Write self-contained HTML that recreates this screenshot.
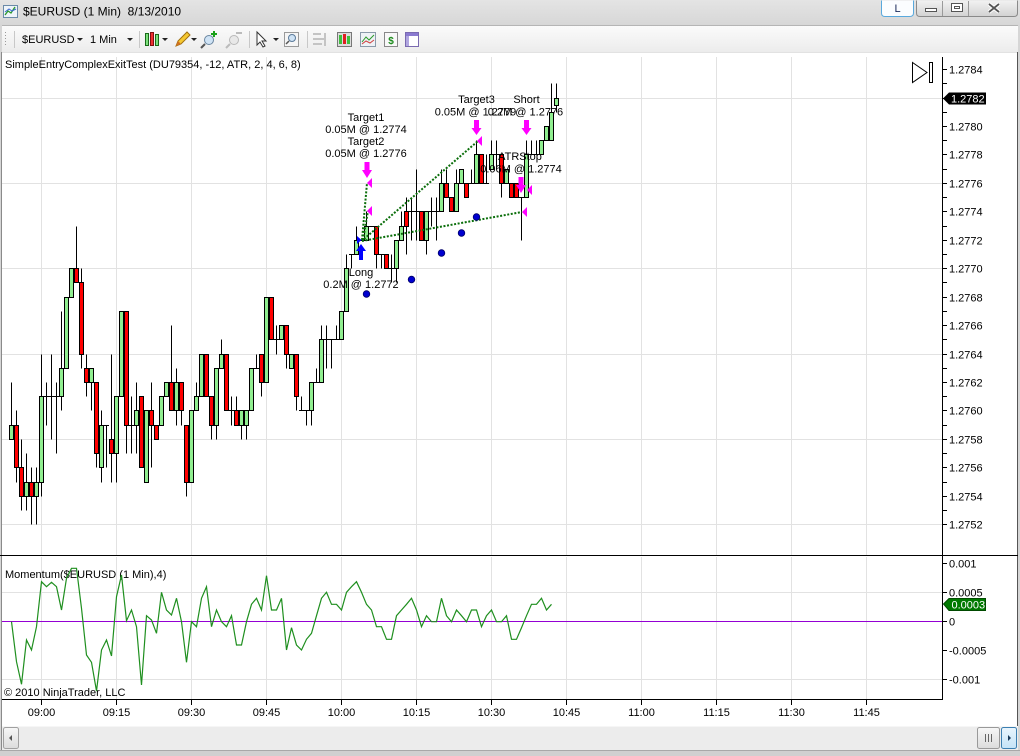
<!DOCTYPE html>
<html><head><meta charset="utf-8"><style>
html,body{margin:0;padding:0;background:#fff;}
body{width:1020px;height:756px;overflow:hidden;}
svg{display:block;font-family:"Liberation Sans",Arial,sans-serif;}
.t{font-size:11px;fill:#000;}
.g{fill:#90ee90;stroke:#000;stroke-width:1;}
.r{fill:#ff0000;stroke:#000;stroke-width:1;}
</style></head><body>
<svg width="1020" height="756" viewBox="0 0 1020 756" xmlns="http://www.w3.org/2000/svg">
<defs>
<linearGradient id="tb" x1="0" y1="0" x2="0" y2="1"><stop offset="0" stop-color="#e4e4e4"/><stop offset="1" stop-color="#d7d7d7"/></linearGradient>
<linearGradient id="tool" x1="0" y1="0" x2="0" y2="1"><stop offset="0" stop-color="#fbfbfb"/><stop offset="1" stop-color="#ececec"/></linearGradient>
<linearGradient id="btn" x1="0" y1="0" x2="0" y2="1"><stop offset="0" stop-color="#f2f2f2"/><stop offset="1" stop-color="#d2d2d2"/></linearGradient>
<linearGradient id="sb" x1="0" y1="0" x2="0" y2="1"><stop offset="0" stop-color="#f7f7f7"/><stop offset="1" stop-color="#dcdcdc"/></linearGradient>
<linearGradient id="sbb" x1="0" y1="0" x2="0" y2="1"><stop offset="0" stop-color="#e9f5fd"/><stop offset="1" stop-color="#c4e3f7"/></linearGradient>
</defs>
<!-- window frame -->
<rect x="0" y="0" width="1020" height="756" fill="#d6d6d6"/>
<rect x="0" y="0" width="1020" height="25" fill="url(#tb)"/>
<!-- title icon -->
<rect x="3.5" y="5.5" width="14" height="12" fill="#eef4fa" stroke="#6a8aa8"/>
<polyline points="5,15 8,11 11,13 15,7" fill="none" stroke="#2a9a2a" stroke-width="1.3"/>
<polyline points="5,12 9,9 12,11 16,9" fill="none" stroke="#3a6ad0" stroke-width="1"/>
<text x="23" y="15.5" font-size="12" fill="#000">$EURUSD (1 Min)&#160; 8/13/2010</text>
<!-- window buttons -->
<path d="M881.5,0.5 V13 Q881.5,16.5 885,16.5 H909.5 Q913.5,16.5 913.5,13 V0.5" fill="#fbfdff" stroke="#59a9dd"/>
<text x="897.5" y="12" font-size="11" fill="#1b2a5a" text-anchor="middle">L</text>
<path d="M916.5,0.5 V13 Q916.5,16.5 920,16.5 H1014 Q1017.5,16.5 1017.5,13 V0.5" fill="url(#btn)" stroke="#8a8a8a"/>
<line x1="942.5" y1="1" x2="942.5" y2="16" stroke="#9a9a9a"/>
<line x1="968.5" y1="1" x2="968.5" y2="16" stroke="#9a9a9a"/>
<rect x="925.5" y="8.5" width="11" height="3" fill="#fff" stroke="#555"/>
<rect x="951.5" y="3.5" width="11" height="8" fill="#fff" stroke="#555"/>
<rect x="954.5" y="6.5" width="5" height="2" fill="none" stroke="#555"/>
<path d="M989,4 L999,12 M999,4 L989,12" stroke="#fff" stroke-width="4"/>
<path d="M989,4 L999,12 M999,4 L989,12" stroke="#555" stroke-width="1.8"/>
<!-- toolbar -->
<rect x="2" y="26" width="1016" height="26" fill="url(#tool)"/>
<line x1="2" y1="25.5" x2="1018" y2="25.5" stroke="#b5b5b5"/>
<g fill="#9a9a9a"><rect x="5" y="32" width="1" height="1"/><rect x="5" y="35" width="1" height="1"/><rect x="5" y="38" width="1" height="1"/><rect x="5" y="41" width="1" height="1"/><rect x="5" y="44" width="1" height="1"/></g>
<g stroke="#c8c8c8"><line x1="14.5" y1="31" x2="14.5" y2="48"/><line x1="139.5" y1="31" x2="139.5" y2="48"/><line x1="249.5" y1="31" x2="249.5" y2="48"/><line x1="307.5" y1="31" x2="307.5" y2="48"/></g>
<text x="22" y="43" font-size="11" fill="#000">$EURUSD</text>
<text x="90" y="43" font-size="11" fill="#000">1 Min</text>
<g fill="#222"><path d="M77,38 h6 l-3,3z"/><path d="M127,38 h6 l-3,3z"/><path d="M162,38 h6 l-3,3z"/><path d="M191,38 h6 l-3,3z"/><path d="M273,38 h6 l-3,3z"/></g>
<!-- candle icon -->
<rect x="145.5" y="33.5" width="3" height="12" fill="#7ce07c" stroke="#1a6a1a"/>
<rect x="150.5" y="32.5" width="3" height="13" fill="#f03030" stroke="#801010"/>
<rect x="155.5" y="34.5" width="3" height="11" fill="#7ce07c" stroke="#1a6a1a"/>
<!-- pencil -->
<path d="M176,46 L178,41 L187,32 L190,35 L181,44 Z" fill="#f5c830" stroke="#a07010"/>
<path d="M176,46 L178,41 L181,44 Z" fill="#d07020"/>
<!-- zoom in -->
<circle cx="209" cy="40" r="4.5" fill="#cfe3f5" stroke="#6a86a0"/><path d="M205,44 L201,48" stroke="#555" stroke-width="2"/><path d="M214,31 v6 M211,34 h6" stroke="#1aa01a" stroke-width="2"/>
<!-- zoom out -->
<circle cx="234" cy="40" r="4.5" fill="#e8e8e8" stroke="#b8b8b8"/><path d="M230,44 L226,48" stroke="#bbb" stroke-width="2"/><path d="M236,33 h6" stroke="#bbb" stroke-width="2"/>
<!-- arrow cursor -->
<path d="M257,32 L257,45 L260,42 L263,47 L265,46 L262,41 L266,41 Z" fill="#fff" stroke="#333"/>
<!-- magnifier box -->
<rect x="284.5" y="32.5" width="14" height="14" fill="#f5f5f5" stroke="#999"/><circle cx="292" cy="38" r="3.5" fill="#cfe3f5" stroke="#5a7a9a"/><path d="M289,41 L286,44" stroke="#555" stroke-width="1.5"/>
<!-- right icons -->
<g fill="#c4c4c4"><rect x="313" y="33" width="8" height="2"/><rect x="313" y="38" width="12" height="2"/><rect x="313" y="43" width="9" height="2"/><rect x="324" y="33" width="2" height="13"/></g>
<rect x="337.5" y="32.5" width="14" height="14" fill="#ddd" stroke="#777"/><rect x="339" y="35" width="3" height="9" fill="#3ec03e"/><rect x="343" y="34" width="3" height="10" fill="#e02020"/><rect x="347" y="36" width="3" height="8" fill="#3ec03e"/>
<rect x="360.5" y="32.5" width="15" height="14" fill="#eef2f6" stroke="#8a9aaa"/><polyline points="362,42 366,37 369,40 374,35" fill="none" stroke="#2a9a2a"/><polyline points="362,44 366,41 370,43 374,40" fill="none" stroke="#d04040"/>
<rect x="384.5" y="32.5" width="13" height="14" fill="#f8f8f8" stroke="#888"/><text x="391" y="44" font-size="10" font-weight="bold" fill="#1a8a1a" text-anchor="middle">$</text>
<rect x="405.5" y="32.5" width="13" height="14" fill="#fff" stroke="#7a6ab0"/><rect x="406" y="33" width="12" height="3" fill="#8a7ad0"/><rect x="406" y="36" width="3" height="10" fill="#b0a6e0"/>
<!-- chart area -->
<rect x="2" y="52" width="1016" height="674" fill="#fff"/>
<line x1="2" y1="52.5" x2="1018" y2="52.5" stroke="#e2e2e2"/>
<line x1="1.5" y1="52" x2="1.5" y2="750" stroke="#8a8a8a"/>
<line x1="1017.5" y1="52" x2="1017.5" y2="726" stroke="#555"/>
<!-- gridlines -->
<g stroke="#e2e2e2" shape-rendering="crispEdges">
<path d="M41.5,57V555M116.5,57V555M191.5,57V555M266.5,57V555M341.5,57V555M416.5,57V555M491.5,57V555M566.5,57V555M641.5,57V555M716.5,57V555M791.5,57V555M866.5,57V555"/>
<path d="M41.5,557V699M116.5,557V699M191.5,557V699M266.5,557V699M341.5,557V699M416.5,557V699M491.5,557V699M566.5,557V699M641.5,557V699M716.5,557V699M791.5,557V699M866.5,557V699"/>
<path d="M2,524.5H942M2,439.5H942M2,354.5H942M2,268.5H942M2,183.5H942M2,98.5H942"/>
<path d="M2,592.5H942M2,679.5H942"/>
</g>
<line x1="2" y1="621.5" x2="942" y2="621.5" stroke="#9400d3" shape-rendering="crispEdges"/>
<!-- axes -->
<g stroke="#000" shape-rendering="crispEdges">
<line x1="0" y1="555.5" x2="1018" y2="555.5"/>
<line x1="2" y1="699.5" x2="943" y2="699.5"/>
<line x1="942.5" y1="57" x2="942.5" y2="700"/>
<path d="M943,69.5h4M943,83.5h4M943,98.5h4M943,112.5h4M943,126.5h4M943,140.5h4M943,154.5h4M943,169.5h4M943,183.5h4M943,197.5h4M943,211.5h4M943,226.5h4M943,240.5h4M943,254.5h4M943,268.5h4M943,282.5h4M943,297.5h4M943,311.5h4M943,325.5h4M943,339.5h4M943,354.5h4M943,368.5h4M943,382.5h4M943,396.5h4M943,410.5h4M943,425.5h4M943,439.5h4M943,453.5h4M943,467.5h4M943,482.5h4M943,496.5h4M943,510.5h4M943,524.5h4"/>
<path d="M943,563.5h4M943,592.5h4M943,621.5h4M943,650.5h4M943,679.5h4"/>
<path d="M41.5,700v5M116.5,700v5M191.5,700v5M266.5,700v5M341.5,700v5M416.5,700v5M491.5,700v5M566.5,700v5M641.5,700v5M716.5,700v5M791.5,700v5M866.5,700v5"/>
</g>
<g class="t">
<text x="949" y="73.5">1.2784</text>
<text x="949" y="130.5">1.2780</text>
<text x="949" y="158.5">1.2778</text>
<text x="949" y="187.5">1.2776</text>
<text x="949" y="215.5">1.2774</text>
<text x="949" y="244.5">1.2772</text>
<text x="949" y="272.5">1.2770</text>
<text x="949" y="301.5">1.2768</text>
<text x="949" y="329.5">1.2766</text>
<text x="949" y="358.5">1.2764</text>
<text x="949" y="386.5">1.2762</text>
<text x="949" y="414.5">1.2760</text>
<text x="949" y="443.5">1.2758</text>
<text x="949" y="471.5">1.2756</text>
<text x="949" y="500.5">1.2754</text>
<text x="949" y="528.5">1.2752</text>
<text x="949" y="567.5">0.001</text>
<text x="949" y="596.5">0.0005</text>
<text x="949" y="625.5">0</text>
<text x="949" y="654.5">-0.0005</text>
<text x="949" y="683.5">-0.001</text>
</g>
<g class="t" text-anchor="middle">
<text x="41.5" y="716">09:00</text><text x="116.5" y="716">09:15</text><text x="191.5" y="716">09:30</text><text x="266.5" y="716">09:45</text><text x="341.5" y="716">10:00</text><text x="416.5" y="716">10:15</text><text x="491.5" y="716">10:30</text><text x="566.5" y="716">10:45</text><text x="641.5" y="716">11:00</text><text x="716.5" y="716">11:15</text><text x="791.5" y="716">11:30</text><text x="866.5" y="716">11:45</text>
</g>
<text class="t" x="5" y="68">SimpleEntryComplexExitTest (DU79354, -12, ATR, 2, 4, 6, 8)</text>
<text class="t" x="5" y="578">Momentum($EURUSD (1 Min),4)</text>
<text class="t" x="4" y="696">© 2010 NinjaTrader, LLC</text>
<!-- play-end icon -->
<path d="M912.5,62.5 L927,72.5 L912.5,82.5 Z" fill="#fff" stroke="#000"/>
<rect x="929.5" y="62.5" width="3" height="20" fill="#fff" stroke="#000"/>
<!-- candles -->
<g shape-rendering="crispEdges">
<path stroke="#000" fill="none" d="M11.5,382.5V439.5M16.5,410.5V482.5M21.5,439.5V510.5M26.5,453.5V510.5M31.5,467.5V524.5M36.5,467.5V524.5M41.5,354.5V496.5M46.5,382.5V425.5M51.5,354.5V439.5M56.5,382.5V453.5M61.5,311.5V410.5M66.5,297.5V368.5M71.5,268.5V297.5M76.5,226.5V282.5M81.5,268.5V368.5M86.5,354.5V396.5M91.5,368.5V410.5M96.5,382.5V467.5M101.5,410.5V482.5M106.5,425.5V467.5M111.5,354.5V482.5M116.5,396.5V482.5M121.5,311.5V396.5M126.5,311.5V453.5M131.5,396.5V453.5M136.5,382.5V453.5M141.5,396.5V467.5M146.5,410.5V482.5M151.5,382.5V467.5M156.5,425.5V439.5M161.5,396.5V425.5M166.5,382.5V396.5M171.5,325.5V410.5M176.5,368.5V425.5M181.5,382.5V425.5M186.5,425.5V496.5M191.5,410.5V482.5M196.5,382.5V410.5M201.5,354.5V396.5M206.5,354.5V396.5M211.5,396.5V439.5M216.5,368.5V439.5M221.5,339.5V368.5M226.5,354.5V410.5M231.5,396.5V425.5M236.5,396.5V425.5M241.5,410.5V439.5M246.5,410.5V439.5M251.5,368.5V410.5M256.5,354.5V368.5M261.5,354.5V396.5M266.5,297.5V382.5M271.5,297.5V339.5M276.5,325.5V354.5M281.5,325.5V339.5M286.5,325.5V368.5M291.5,354.5V368.5M296.5,354.5V410.5M301.5,396.5V410.5M306.5,410.5V425.5M311.5,382.5V425.5M316.5,368.5V382.5M321.5,325.5V382.5M326.5,325.5V368.5M331.5,339.5V368.5M336.5,325.5V339.5M341.5,311.5V339.5M346.5,254.5V311.5M351.5,254.5V268.5M356.5,226.5V254.5M366.5,211.5V240.5M376.5,226.5V268.5M381.5,254.5V268.5M386.5,254.5V268.5M391.5,254.5V282.5M396.5,240.5V282.5M401.5,211.5V240.5M406.5,197.5V254.5M411.5,197.5V240.5M416.5,169.5V240.5M421.5,211.5V240.5M426.5,211.5V254.5M431.5,197.5V226.5M436.5,197.5V240.5M441.5,169.5V211.5M446.5,169.5V197.5M451.5,197.5V211.5M456.5,169.5V211.5M461.5,169.5V183.5M466.5,183.5V197.5M471.5,169.5V183.5M476.5,140.5V183.5M481.5,154.5V183.5M486.5,154.5V183.5M491.5,140.5V169.5M496.5,140.5V169.5M501.5,154.5V197.5M506.5,169.5V183.5M511.5,183.5V197.5M516.5,183.5V197.5M521.5,197.5V240.5M526.5,140.5V197.5M531.5,140.5V154.5M536.5,140.5V154.5M541.5,140.5V154.5M546.5,126.5V140.5M551.5,83.5V140.5M556.5,83.5V112.5"/>
<path stroke="#000" fill="none" d="M44,396.5h5M49,396.5h5M54,396.5h5M104,425.5h5M129,425.5h5M229,410.5h5M254,368.5h5M274,339.5h5M299,410.5h5M304,410.5h5M314,382.5h5M324,339.5h5M329,339.5h5M334,339.5h5M349,254.5h5M359,240.5h5M369,226.5h5M379,254.5h5M389,268.5h5M409,211.5h5M414,211.5h5M429,211.5h5M434,211.5h5M469,183.5h5M484,183.5h5M494,154.5h5M519,197.5h5M529,154.5h5M534,154.5h5"/>
<rect class="g" x="9.5" y="425.5" width="4" height="14"/>
<rect class="g" x="24.5" y="482.5" width="4" height="14"/>
<rect class="g" x="34.5" y="482.5" width="4" height="14"/>
<rect class="g" x="39.5" y="396.5" width="4" height="86"/>
<rect class="g" x="59.5" y="368.5" width="4" height="28"/>
<rect class="g" x="64.5" y="297.5" width="4" height="71"/>
<rect class="g" x="69.5" y="268.5" width="4" height="29"/>
<rect class="g" x="89.5" y="368.5" width="4" height="14"/>
<rect class="g" x="99.5" y="425.5" width="4" height="42"/>
<rect class="g" x="114.5" y="396.5" width="4" height="57"/>
<rect class="g" x="119.5" y="311.5" width="4" height="85"/>
<rect class="g" x="134.5" y="410.5" width="4" height="15"/>
<rect class="g" x="144.5" y="410.5" width="4" height="72"/>
<rect class="g" x="159.5" y="396.5" width="4" height="29"/>
<rect class="g" x="164.5" y="382.5" width="4" height="14"/>
<rect class="g" x="174.5" y="382.5" width="4" height="28"/>
<rect class="g" x="189.5" y="410.5" width="4" height="72"/>
<rect class="g" x="194.5" y="396.5" width="4" height="14"/>
<rect class="g" x="199.5" y="354.5" width="4" height="42"/>
<rect class="g" x="214.5" y="368.5" width="4" height="57"/>
<rect class="g" x="219.5" y="354.5" width="4" height="14"/>
<rect class="g" x="239.5" y="410.5" width="4" height="15"/>
<rect class="g" x="244.5" y="410.5" width="4" height="15"/>
<rect class="g" x="249.5" y="368.5" width="4" height="42"/>
<rect class="g" x="264.5" y="297.5" width="4" height="85"/>
<rect class="g" x="279.5" y="325.5" width="4" height="14"/>
<rect class="g" x="289.5" y="354.5" width="4" height="14"/>
<rect class="g" x="309.5" y="382.5" width="4" height="28"/>
<rect class="g" x="319.5" y="339.5" width="4" height="43"/>
<rect class="g" x="339.5" y="311.5" width="4" height="28"/>
<rect class="g" x="344.5" y="268.5" width="4" height="43"/>
<rect class="g" x="354.5" y="240.5" width="4" height="14"/>
<rect class="g" x="364.5" y="226.5" width="4" height="14"/>
<rect class="g" x="394.5" y="240.5" width="4" height="28"/>
<rect class="g" x="399.5" y="226.5" width="4" height="14"/>
<rect class="g" x="424.5" y="211.5" width="4" height="29"/>
<rect class="g" x="439.5" y="183.5" width="4" height="28"/>
<rect class="g" x="454.5" y="183.5" width="4" height="28"/>
<rect class="g" x="459.5" y="169.5" width="4" height="14"/>
<rect class="g" x="474.5" y="154.5" width="4" height="29"/>
<rect class="g" x="489.5" y="154.5" width="4" height="15"/>
<rect class="g" x="504.5" y="169.5" width="4" height="14"/>
<rect class="g" x="524.5" y="154.5" width="4" height="43"/>
<rect class="g" x="539.5" y="140.5" width="4" height="14"/>
<rect class="g" x="544.5" y="126.5" width="4" height="14"/>
<rect class="g" x="549.5" y="112.5" width="4" height="28"/>
<rect class="g" x="554.5" y="98.5" width="4" height="7"/>
<rect class="r" x="14.5" y="425.5" width="4" height="42"/>
<rect class="r" x="19.5" y="467.5" width="4" height="29"/>
<rect class="r" x="29.5" y="482.5" width="4" height="14"/>
<rect class="r" x="74.5" y="268.5" width="4" height="14"/>
<rect class="r" x="79.5" y="282.5" width="4" height="72"/>
<rect class="r" x="84.5" y="368.5" width="4" height="14"/>
<rect class="r" x="94.5" y="382.5" width="4" height="71"/>
<rect class="r" x="109.5" y="439.5" width="4" height="14"/>
<rect class="r" x="124.5" y="311.5" width="4" height="114"/>
<rect class="r" x="139.5" y="396.5" width="4" height="71"/>
<rect class="r" x="149.5" y="410.5" width="4" height="15"/>
<rect class="r" x="154.5" y="425.5" width="4" height="14"/>
<rect class="r" x="169.5" y="382.5" width="4" height="28"/>
<rect class="r" x="179.5" y="382.5" width="4" height="28"/>
<rect class="r" x="184.5" y="425.5" width="4" height="57"/>
<rect class="r" x="204.5" y="354.5" width="4" height="42"/>
<rect class="r" x="209.5" y="396.5" width="4" height="29"/>
<rect class="r" x="224.5" y="354.5" width="4" height="56"/>
<rect class="r" x="234.5" y="410.5" width="4" height="15"/>
<rect class="r" x="259.5" y="354.5" width="4" height="28"/>
<rect class="r" x="269.5" y="297.5" width="4" height="42"/>
<rect class="r" x="284.5" y="325.5" width="4" height="29"/>
<rect class="r" x="294.5" y="354.5" width="4" height="42"/>
<rect class="r" x="374.5" y="226.5" width="4" height="28"/>
<rect class="r" x="384.5" y="254.5" width="4" height="14"/>
<rect class="r" x="404.5" y="211.5" width="4" height="15"/>
<rect class="r" x="419.5" y="211.5" width="4" height="29"/>
<rect class="r" x="444.5" y="183.5" width="4" height="14"/>
<rect class="r" x="449.5" y="197.5" width="4" height="14"/>
<rect class="r" x="464.5" y="183.5" width="4" height="14"/>
<rect class="r" x="479.5" y="154.5" width="4" height="29"/>
<rect class="r" x="499.5" y="154.5" width="4" height="29"/>
<rect class="r" x="509.5" y="183.5" width="4" height="14"/>
<rect class="r" x="514.5" y="183.5" width="4" height="14"/>
</g>
<!-- strategy lines -->
<g stroke="#0a6e0a" stroke-width="2" stroke-dasharray="2,1.6" fill="none">
<line x1="362" y1="240" x2="367" y2="183"/>
<line x1="363" y1="240" x2="368" y2="211"/>
<line x1="364" y1="239" x2="478" y2="141"/>
<line x1="362" y1="241" x2="522" y2="212"/>
</g>
<!-- blue dots -->
<g fill="#0000d0" stroke="#00006a" stroke-width="0.8">
<circle cx="366.5" cy="294" r="3.3"/><circle cx="411.5" cy="279.5" r="3.3"/><circle cx="441.5" cy="253" r="3.3"/><circle cx="461.5" cy="233" r="3.3"/><circle cx="476.5" cy="217" r="3.3"/>
</g>
<!-- long markers -->
<polygon points="361,244 366,251 363,251 363,260 359,260 359,251 356,251" fill="#0000ff"/>
<polygon points="357,236 357,244 361.5,240" fill="#0000ff"/>
<!-- magenta markers -->
<g fill="#ff00ff">
<polygon points="364.5,162 369.5,162 369.5,170 372,170 367,178 362,170 364.5,170"/>
<polygon points="474,120 479,120 479,128 481.5,128 476.5,135 471.5,128 474,128"/>
<polygon points="524,120 529,120 529,128 531.5,128 526.5,135 521.5,128 524,128"/>
<polygon points="518.5,177 523.5,177 523.5,185 526,185 521,193 516,185 518.5,185"/>
<polygon points="367,183 372,178 372,188"/>
<polygon points="367,211 372,206 372,216"/>
<polygon points="477,141 482,136 482,146"/>
<polygon points="527,190 532,185 532,195"/>
<polygon points="522,212 527,207 527,217"/>
</g>
<!-- labels -->
<g class="t" text-anchor="middle">
<text x="366" y="121">Target1</text>
<text x="366" y="133">0.05M @ 1.2774</text>
<text x="366" y="145">Target2</text>
<text x="366" y="157">0.05M @ 1.2776</text>
<text x="361" y="276">Long</text>
<text x="361" y="288">0.2M @ 1.2772</text>
<text x="476.5" y="103">Target3</text>
<text x="475.5" y="115.5">0.05M @ 1.2779</text>
<text x="526.5" y="103">Short</text>
<text x="525.5" y="115.5">0.2M @ 1.2776</text>
<text x="520" y="160">ATRStop</text>
<text x="521" y="172.5">0.06M @ 1.2774</text>
</g>
<!-- momentum -->
<polyline fill="none" stroke="#1f8f1f" stroke-width="1.2" points="11.5,621.7 16.5,661.7 21.5,684.3 26.5,640 31.5,650 36.5,626.7 41.5,581.7 46.5,586.7 51.5,582.3 56.5,586.7 61.5,610 66.5,578.3 71.5,568.3 76.5,568.3 81.5,608.3 86.5,655 91.5,662.3 96.5,691 101.5,650 106.5,640 111.5,656 116.5,596.7 121.5,575 126.5,620.7 131.5,610 136.5,626.7 141.5,685 146.5,615.7 151.5,620 156.5,633.3 161.5,592.3 166.5,610 171.5,615 176.5,598.3 181.5,621.7 186.5,662.3 191.5,621.7 196.5,626.7 201.5,598.3 206.5,586.7 211.5,626.7 216.5,610 221.5,621.7 226.5,626.7 231.5,615.7 236.5,645 241.5,645 246.5,621.7 251.5,604.3 256.5,598.3 261.5,610 266.5,575.7 271.5,610 276.5,610 281.5,598.3 286.5,650 291.5,627.7 296.5,645 301.5,650 306.5,639.3 311.5,633.3 316.5,615.7 321.5,598.3 326.5,592.3 331.5,604.3 336.5,604.3 341.5,610 346.5,592.3 351.5,586.7 356.5,581.7 361.5,592.3 366.5,604.3 371.5,610 376.5,626.7 381.5,626.7 386.5,639.3 391.5,639.3 396.5,615.7 401.5,610 406.5,604.3 411.5,598.3 416.5,610 421.5,626.7 426.5,615.7 431.5,621.7 436.5,621.7 441.5,598.3 446.5,615.7 451.5,621.7 456.5,610 461.5,615.7 466.5,621.7 471.5,610 476.5,610 481.5,626.7 486.5,615.7 491.5,610 496.5,621.7 501.5,621.7 506.5,615.7 511.5,639.3 516.5,639.3 521.5,627.7 526.5,615.7 531.5,604.3 536.5,604.3 541.5,598.3 546.5,610 551.5,604.3"/>
<!-- price markers -->
<polygon points="943,98.5 949,92.5 986,92.5 986,104.5 949,104.5" fill="#000"/>
<text x="951" y="102.5" font-size="11" fill="#fff">1.2782</text>
<polygon points="943.5,604 949,598.5 985.5,598.5 985.5,610.5 949,610.5" fill="#007a00" stroke="#004a00"/>
<text x="951.5" y="608.5" font-size="11" fill="#fff">0.0003</text>
<!-- scrollbar -->
<rect x="2" y="726" width="1016" height="24" fill="#ececec"/>
<line x1="2" y1="726.5" x2="1018" y2="726.5" stroke="#f6f6f6"/>
<rect x="3.5" y="727.5" width="15" height="21" rx="2" fill="url(#sb)" stroke="#a0a0a0"/>
<path d="M9,738 L12,735 L12,741 Z" fill="#555"/>
<rect x="977.5" y="727.5" width="22" height="21" rx="2" fill="url(#sb)" stroke="#999"/>
<path d="M985.5,734v8M988.5,734v8M991.5,734v8" stroke="#666"/>
<rect x="1001.5" y="727.5" width="15" height="21" rx="2" fill="url(#sbb)" stroke="#3c7fb1"/>
<path d="M1008,735 L1011,738 L1008,741 Z" fill="#1a3a5a"/>
<rect x="0" y="750" width="1020" height="6" fill="#d0d0d0"/>
<line x1="0" y1="750.5" x2="1020" y2="750.5" stroke="#a8a8a8"/>
</svg>
</body></html>
